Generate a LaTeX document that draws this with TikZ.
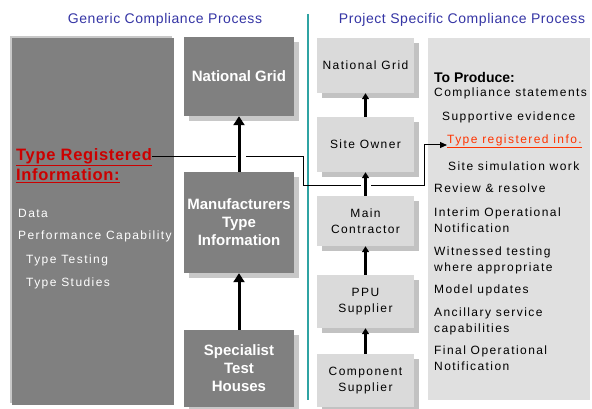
\documentclass[tikz,border=0pt]{standalone}
\usepackage{fontspec}
\setmainfont{Liberation Sans}
\newfontfamily\lsfont[LetterSpace=12]{Liberation Sans}
\newfontfamily\ttlfont[LetterSpace=4]{Liberation Sans}
\usetikzlibrary{arrows.meta,calc}
\definecolor{dkbox}{HTML}{808080}
\definecolor{dkshadow}{HTML}{C8C8C8}
\definecolor{ltbox}{HTML}{DADADA}
\definecolor{ltshadow}{HTML}{C2C2C2}
\definecolor{panelgray}{HTML}{E0E0E0}
\definecolor{tealline}{HTML}{2FA3A3}
\definecolor{ttlblue}{HTML}{3535A5}
\definecolor{regred}{HTML}{CC0000}
\definecolor{infored}{HTML}{FF3300}
\begin{document}
\begin{tikzpicture}[x=1pt,y=-1pt,
  genbox/.style={fill=dkbox, inner sep=0pt, minimum width=110pt, text=white,
    font=\fontsize{15}{18}\selectfont\bfseries, align=center,
    preaction={fill=dkshadow, transform canvas={shift={(5pt,-5pt)}}}},
  projbox/.style={fill=ltbox, inner sep=0pt, minimum width=97pt, text=black,
    font=\lsfont\fontsize{12}{16.5}\selectfont, align=center,
    preaction={fill=ltshadow, transform canvas={shift={(5pt,-5pt)}}}},
  ttl/.style={text=ttlblue, font=\ttlfont\fontsize{14}{16}\selectfont, inner sep=0pt},
  wtxt/.style={anchor=west, inner sep=0pt, text=white, font=\lsfont\fontsize{12}{16}\selectfont},
  ptxt/.style={anchor=west, inner sep=0pt, text=black, align=left, font=\lsfont\fontsize{12}{16}\selectfont},
  redtxt/.style={anchor=west, inner sep=0pt, text=regred, font=\ttlfont\fontsize{16.5}{19}\selectfont\bfseries},
  bigarrow/.style={draw=black, line width=3pt, -{Triangle[width=11pt,length=9pt]}},
  smallarrow/.style={draw=black, line width=2.3pt, -{Triangle[width=7pt,length=6pt]}},
  conn/.style={draw=black, line width=1pt, -{Triangle[width=6pt,length=7pt]}}
]
\useasboundingbox (0,0) rectangle (592,409);
\fill[white] (0,0) rectangle (592,409);

% panels
\node[fill=dkbox, inner sep=0pt, minimum width=162pt, minimum height=367pt,
  preaction={fill=dkshadow, transform canvas={shift={(-2pt,2pt)}}}] (lp) at (93,221.5) {};
\node[fill=panelgray, inner sep=0pt, minimum width=162pt, minimum height=362pt] (rp) at (509,219) {};

% separator
\draw[tealline, line width=2pt] (308,14) -- (308,400);

% titles
\node[ttl] (t1) at (165,20) {Generic Compliance Process};
\node[ttl] (t2) at (462,20) {Project Specific Compliance Process};

% generic boxes
\node[genbox, minimum height=79pt] (gNG) at (239,76.5) {National Grid};
\node[genbox, minimum height=101pt] (gMan) at (239,222.5) {Manufacturers\\Type\\Information};
\node[genbox, minimum height=77pt] (gSTH) at (239,368.5) {Specialist\\Test\\Houses};

% project boxes
\node[projbox, minimum height=55pt] (pNG) at (365.5,65.5) {National Grid};
\node[projbox, minimum height=55pt] (pSO) at (365.5,144.5) {Site Owner};
\node[projbox, minimum height=50pt] (pMC) at (365.5,221) {Main\\Contractor};
\node[projbox, minimum height=53pt] (pPPU) at (365.5,301.5) {PPU\\Supplier};
\node[projbox, minimum height=53pt] (pCS) at (365.5,380.5) {Component\\Supplier};

% left panel text
\node[redtxt] (trl1) at (16,157) {\underline{Type Registered}};
\node[redtxt] (trl2) at (16,176) {\underline{Information:}};
\node[wtxt] (data) at (18,213) {Data};
\node[wtxt] (perf) at (18,236) {Performance Capability};
\node[wtxt] (tt) at (26,260) {Type Testing};
\node[wtxt] (ts) at (26,283) {Type Studies};

% right panel text
\node[anchor=west, inner sep=0pt, font=\fontsize{14}{16}\selectfont\bfseries] (tp) at (434,77) {To Produce:};
\node[ptxt] (cs) at (434,93) {Compliance statements};
\node[ptxt] (se) at (442,117) {Supportive evidence};
\node[ptxt, text=infored] (tri) at (447,141) {\underline{Type registered info.}};
\node[ptxt] (ssw) at (448,166) {Site simulation work};
\node[ptxt] (rr) at (434,188) {Review \& resolve};
\node[ptxt] (ion) at (434,220) {Interim Operational\\Notification};
\node[ptxt] (wt) at (434,260) {Witnessed testing\\where appropriate};
\node[ptxt] (mu) at (434,290) {Model updates};
\node[ptxt] (asc) at (434,321) {Ancillary service\\capabilities};
\node[ptxt] (fon) at (434,358.5) {Final Operational\\Notification};

% connector
\coordinate (k1) at (303,157);
\coordinate (k2) at (303,186);
\coordinate (k3) at (424,186);
\coordinate (k4) at (424,145);
\draw[conn] (trl1.east) -- (k1) -- (k2) -- (k3) -- (k4) -- (k4 -| tri.west);

% gaps where the connector passes under the arrows
\fill[white] (236,154) rectangle (246,160);
\fill[white] (361,183) rectangle (371,189);

% arrows
\draw[bigarrow] (gMan.north) -- (gNG.south);
\draw[bigarrow] (gSTH.north) -- (gMan.south);
\draw[smallarrow] (pSO.north) -- (pNG.south);
\draw[smallarrow] (pMC.north) -- (pSO.south);
\draw[smallarrow] (pPPU.north) -- (pMC.south);
\draw[smallarrow] (pCS.north) -- (pPPU.south);
\end{tikzpicture}
\end{document}
